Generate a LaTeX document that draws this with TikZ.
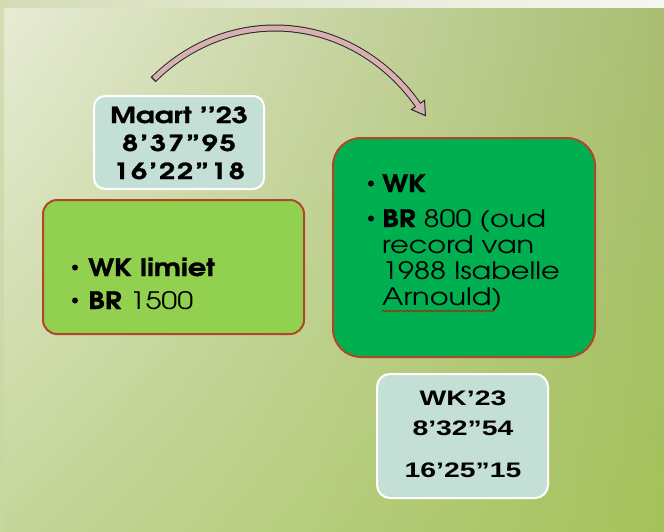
\documentclass[tikz,border=0pt]{standalone}
\usepackage{fontspec}
\setmainfont{texgyreadventor}[Extension=.otf, UprightFont=*-regular, BoldFont=*-bold, ItalicFont=*-italic, BoldItalicFont=*-bolditalic, FakeStretch=1.2, BoldFeatures={FakeBold=1.2}]
\newfontfamily\maartfont{texgyreadventor}[Extension=.otf, UprightFont=*-regular, BoldFont=*-bold, FakeStretch=1.3, BoldFeatures={FakeBold=1.2}]
\newfontfamily\maartdigits{texgyreadventor}[Extension=.otf, UprightFont=*-regular, BoldFont=*-bold, FakeStretch=1.3, LetterSpace=9, BoldFeatures={FakeBold=1.2}]
\newfontfamily\wkfont{Liberation Sans}[FakeStretch=1.35]
\usetikzlibrary{shadings,decorations.pathmorphing}
\definecolor{bgUL}{RGB}{232,236,214}
\definecolor{bgUR}{RGB}{169,189,114}
\definecolor{bgLL}{RGB}{197,214,154}
\definecolor{bgLR}{RGB}{164,194,90}
\definecolor{bandL}{RGB}{212,220,182}
\definecolor{bandR}{RGB}{247,247,242}
\definecolor{paleteal}{RGB}{196,224,214}
\definecolor{lightgreen}{RGB}{146,208,80}
\definecolor{darkgreen}{RGB}{0,176,80}
\definecolor{rust}{RGB}{176,70,42}
\definecolor{arrowpink}{RGB}{217,176,178}
\tikzset{
  x=1pt, y=-1pt,
  tealbox/.style={draw=white, line width=2pt, fill=paleteal, rounded corners=11pt},
  greenbox/.style={draw=rust, line width=2pt, rounded corners=#1},
  maarttxt/.style={inner sep=0pt, anchor=base, font=\maartfont\bfseries\fontsize{22}{26}\selectfont},
  maartnum/.style={inner sep=0pt, anchor=base, font=\maartdigits\bfseries\fontsize{22}{26}\selectfont},
  wktxt/.style={inner sep=0pt, anchor=base, font=\wkfont\bfseries\fontsize{21}{25}\selectfont},
  itemtxt/.style={inner sep=0pt, anchor=base west, font=\fontsize{24}{28}\selectfont},
  bulletdot/.style={circle, fill=black, inner sep=0pt, minimum size=6pt},
}
\begin{document}
\begin{tikzpicture}
\useasboundingbox (0,0) rectangle (664,531);
% background
\shade[upper left=bgUL, upper right=bgUR, lower left=bgLL, lower right=bgLR] (0,0) rectangle (664,531);
\shade[left color=bandL, right color=bandR] (0,0) rectangle (664,7);
\shade[top color=bandL, bottom color=bgLL!90!bandL] (0,7) rectangle (4,531);

% boxes
\path[tealbox] (94,96) rectangle (264,189);
\node[inner sep=0pt, minimum width=170pt, minimum height=93pt] (maart) at (179,142.5) {};
\path[greenbox=14pt, fill=lightgreen] (43,200) rectangle (304,334);
\node[inner sep=0pt, minimum width=261pt, minimum height=134pt] (limiet) at (173.5,267) {};
\path[greenbox=28pt, fill=darkgreen] (333,138) rectangle (595,357);
\node[inner sep=0pt, minimum width=262pt, minimum height=219pt] (wk) at (464,247.5) {};
\path[tealbox, rounded corners=13pt] (377,374) rectangle (548,498);
\node[inner sep=0pt, minimum width=171pt, minimum height=124pt] (wk23) at (462.5,436) {};

% arrow
\coordinate (headL) at (411.4,109.5);
\coordinate (headR) at (424.6,100.3);
\coordinate (headT) at (425.4,115.6);
\draw[line width=7pt, black!85] plot[domain=-132.6:-37.4, samples=70, smooth] ({275+180*cos(\x)},{224+196*sin(\x)});
\filldraw[fill=arrowpink, draw=black!85, line width=1pt, line join=miter] (headL) -- (headR) -- (headT) -- cycle;
\draw[line width=5pt, arrowpink] plot[domain=-132.2:-35.8, samples=70, smooth] ({275+180*cos(\x)},{224+196*sin(\x)});

% Maart box text
\node[maarttxt] (m1) at (179,123) {Maart ’’23};
\node[maartnum] (m2) at (179,151) {8’37”95};
\node[maartnum] (m3) at (179,179) {16’22”18};

% left box text
\node[bulletdot] (lb1) at (75,267.5) {};
\node[itemtxt] (l1) at (88,276) {\textbf{WK limiet}};
\node[bulletdot] (lb2) at (75,300.5) {};
\node[itemtxt] (l2) at (88,309) {\textbf{BR} 1500};

% right box text
\node[bulletdot] (rb1) at (371,183.5) {};
\node[itemtxt] (r1) at (382,192) {\textbf{WK}};
\node[bulletdot] (rb2) at (371,218.5) {};
\node[itemtxt] (r2) at (382,227) {\textbf{BR} 800 (oud};
\node[itemtxt] (r3) at (382,253) {record van};
\node[itemtxt] (r4) at (382,279) {1988 Isabelle};
\node[itemtxt] (r5) at (382,305) {Arnould)};
\draw[red!80!black, line width=0.6pt, decorate, decoration={snake, amplitude=0.8pt, segment length=3pt}] (r5.base west) ++(0,6) -- ++(113,0);

% WK'23 box text
\node[wktxt] (w1) at (463,405) {WK’23};
\node[wktxt] (w2) at (463,435) {8’32”54};
\node[wktxt] (w3) at (463,477) {16’25”15};
\end{tikzpicture}
\end{document}
